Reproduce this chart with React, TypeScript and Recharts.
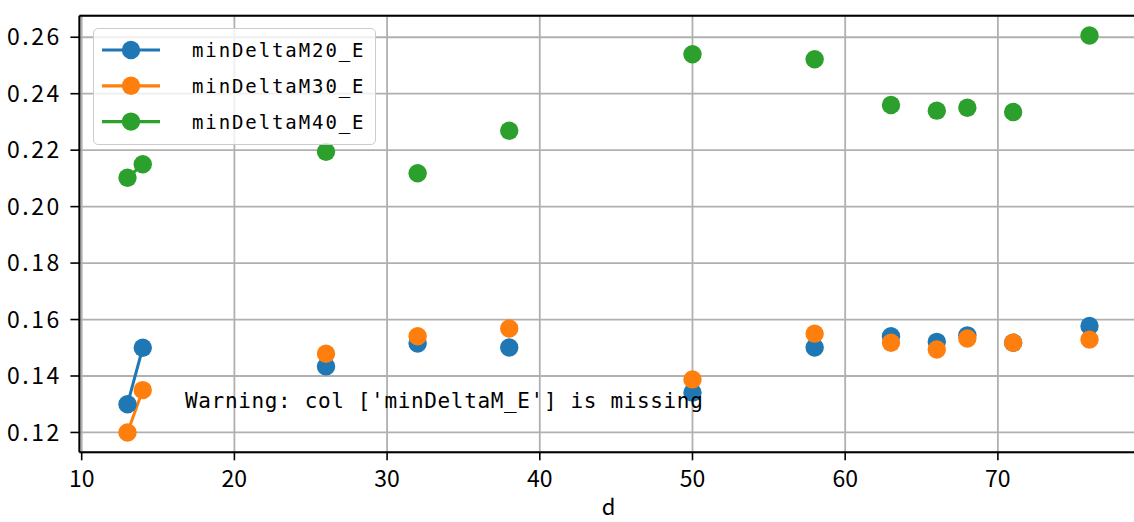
import React from 'react';
import {
  ComposedChart,
  Line,
  Scatter,
  XAxis,
  YAxis,
  CartesianGrid,
  ReferenceLine,
} from 'recharts';

// ---- data ----
const d = [13, 14, 26, 32, 38, 50, 58, 63, 66, 68, 71, 76];
const minDeltaM20_E = [0.130, 0.150, 0.1434, 0.1515, 0.1501, 0.1341, 0.1501, 0.1541, 0.1521, 0.1544, 0.1518, 0.1577];
const minDeltaM30_E = [0.120, 0.135, 0.1479, 0.1541, 0.1568, 0.1388, 0.1550, 0.1518, 0.1494, 0.1533, 0.1518, 0.1529];
const minDeltaM40_E = [0.2102, 0.2150, 0.2194, 0.2118, 0.2269, 0.2540, 0.2522, 0.2360, 0.2340, 0.2350, 0.2335, 0.2606];
// points sharing a segment id are joined by a line (other rows are separated by missing values)
const segmentId = [0, 0, 1, 2, 3, 4, 5, 6, 7, 8, 9, 10];

const seriesNames = ['minDeltaM20_E', 'minDeltaM30_E', 'minDeltaM40_E'];
const seriesColors = ['#1f77b4', '#ff7f0e', '#2ca02c'];
const xTicks = [10, 20, 30, 40, 50, 60, 70];
const yTicks = [0.12, 0.14, 0.16, 0.18, 0.2, 0.22, 0.24, 0.26];
const xLabel = 'd';
const warningText = "Warning: col ['minDeltaM_E'] is missing";

// ---- derived ----
const allValues = [...minDeltaM20_E, ...minDeltaM30_E, ...minDeltaM40_E];
const pad = (lo: number, hi: number) => [lo - (hi - lo) * 0.05, hi + (hi - lo) * 0.05];
const xDomain = pad(Math.min(...d), Math.max(...d));
const yDomain = pad(Math.min(...allValues), Math.max(...allValues));

const series = [minDeltaM20_E, minDeltaM30_E, minDeltaM40_E].map((vals, i) => {
  const points = d.map((x, j) => ({ x, y: vals[j] }));
  const groups: Record<number, { x: number; y: number }[]> = {};
  points.forEach((p, j) => {
    (groups[segmentId[j]] = groups[segmentId[j]] || []).push(p);
  });
  const runs = Object.values(groups).filter((g) => g.length > 1);
  return { name: seriesNames[i], color: seriesColors[i], points, runs };
});

const MONO = '"DejaVu Sans Mono", monospace';
const SANS = '"Noto Sans CJK SC", "DejaVu Sans", sans-serif';

export default function App() {
  return (
    <div
      style={{
        position: 'fixed',
        left: 0,
        top: 0,
        width: 1134,
        height: 522,
        overflow: 'hidden',
        background: '#fff',
      }}
    >
      <ComposedChart
        width={1140}
        height={522}
        margin={{ top: 15.7, right: 2.4, bottom: 0, left: 0 }}
      >
        <CartesianGrid stroke="#b0b0b0" strokeWidth={1.8} />
        <XAxis
          type="number"
          dataKey="x"
          domain={xDomain}
          ticks={xTicks}
          allowDataOverflow
          height={69.7}
          axisLine={{ stroke: '#000', strokeWidth: 2 }}
          tickLine={{ stroke: '#000', strokeWidth: 1.6 }}
          tickSize={8}
          tickMargin={10}
          tick={{ fill: '#000', fontSize: 23, fontFamily: SANS }}
          label={{ value: xLabel, position: 'insideBottom', offset: 7, fill: '#000', fontSize: 22, fontFamily: SANS }}
        />
        <YAxis
          type="number"
          dataKey="y"
          domain={yDomain}
          ticks={yTicks}
          allowDataOverflow
          width={79.4}
          axisLine={{ stroke: '#000', strokeWidth: 2 }}
          tickLine={{ stroke: '#000', strokeWidth: 1.6 }}
          tickSize={9}
          tickMargin={8.7}
          tickFormatter={(v: number) => v.toFixed(2)}
          tick={{ fill: '#000', fontSize: 23, fontFamily: SANS, letterSpacing: 2.5 }}
        />
        <ReferenceLine y={yDomain[1]} stroke="#000" strokeWidth={2} ifOverflow="visible" />
        {series.map((s) => [
          ...s.runs.map((run, k) => (
            <Line
              key={`${s.name}-line-${k}`}
              data={run}
              dataKey="y"
              stroke={s.color}
              strokeWidth={3}
              dot={false}
              activeDot={false}
              isAnimationActive={false}
              legendType="none"
            />
          )),
          <Scatter
            key={`${s.name}-pts`}
            name={s.name}
            data={s.points}
            dataKey="y"
            fill={s.color}
            isAnimationActive={false}
            shape={(p: any) => <circle cx={p.cx} cy={p.cy} r={9.2} fill={s.color} />}
          />,
        ])}
      </ComposedChart>
      {/* legend */}
      <div
        style={{
          position: 'absolute',
          left: 93,
          top: 28.3,
          width: 281,
          height: 115,
          background: 'rgba(255,255,255,0.8)',
          border: '1.5px solid #cccccc',
          borderRadius: 5,
        }}
      >
        <svg width={281} height={115} style={{ position: 'absolute', left: 0, top: 0 }}>
          {series.map((s, i) => {
            const cy = 21 + i * 35.8;
            return (
              <g key={s.name}>
                <line x1={8} x2={66} y1={cy} y2={cy} stroke={s.color} strokeWidth={3.2} />
                <circle cx={37} cy={cy} r={9.2} fill={s.color} />
                <text
                  x={98}
                  y={cy + 7}
                  fontFamily={MONO}
                  fontSize={19}
                  letterSpacing={1.9}
                  fill="#000"
                >
                  {s.name}
                </text>
              </g>
            );
          })}
        </svg>
      </div>
      <svg
        width={1134}
        height={522}
        style={{ position: 'absolute', left: 0, top: 0, pointerEvents: 'none' }}
      >
        <text x={185} y={408.3} fontFamily={MONO} fontSize={21} letterSpacing={0.65} fill="#000">
          {warningText}
        </text>
      </svg>
    </div>
  );
}
